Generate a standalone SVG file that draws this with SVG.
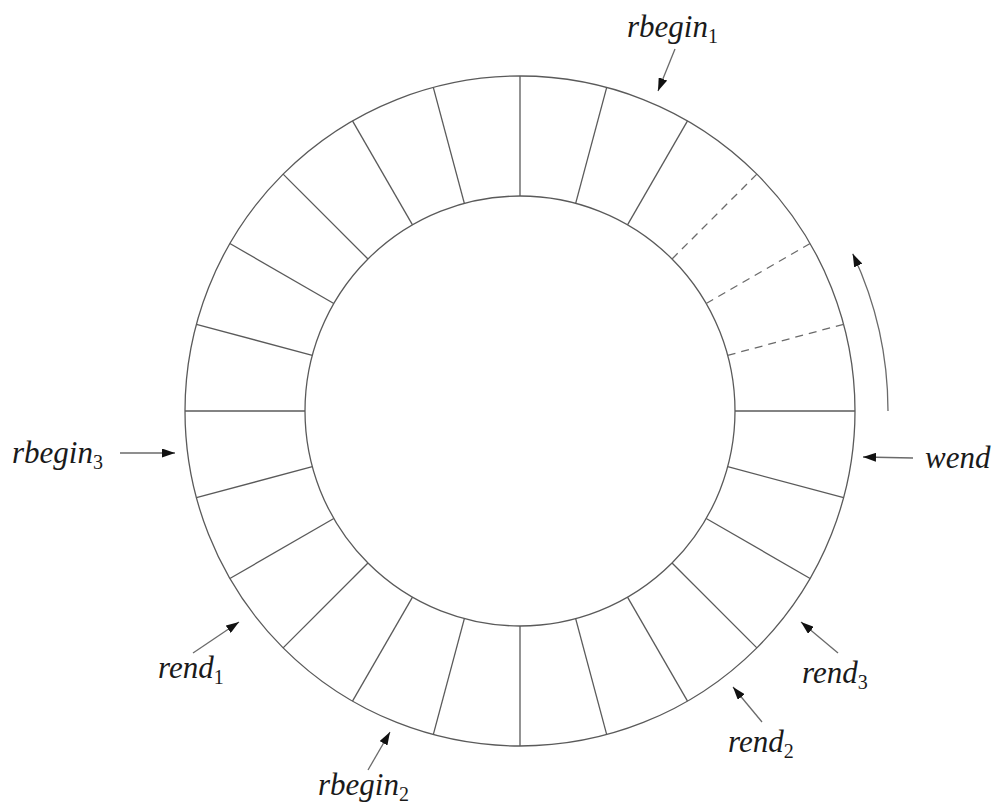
<svg xmlns="http://www.w3.org/2000/svg" width="997" height="807" viewBox="0 0 997 807">
<style>
.ring{fill:none;stroke:#5a5a5a;stroke-width:1.3}
.sp{stroke:#5a5a5a;stroke-width:1.3}
.dash{stroke:#6a6a6a;stroke-width:1.3;stroke-dasharray:8 6}
.arr{fill:none;stroke:#6a6a6a;stroke-width:1.3;marker-end:url(#ah)}
.lbl{font-family:"Liberation Serif","Times New Roman",serif;font-style:italic;font-size:31px;fill:#1a1a1a}
.sub{font-style:normal;font-size:20px}
</style>
<defs>
<marker id="ah" viewBox="0 0 13 9" refX="13" refY="4.5" markerWidth="13" markerHeight="9" markerUnits="userSpaceOnUse" orient="auto">
<path d="M0,0 L13,4.5 L0,9 z" fill="#111"/>
</marker>
</defs>
<rect width="997" height="807" fill="#fff"/>
<g id="ring">
<circle class="ring" cx="520" cy="411" r="335"/>
<circle class="ring" cx="520" cy="411" r="215"/>
<line class="sp" x1="735" y1="411" x2="855" y2="411"/>
<line class="dash" x1="727.67" y1="355.36" x2="843.58" y2="324.30"/>
<line class="dash" x1="706.20" y1="303.5" x2="810.12" y2="243.5"/>
<line class="dash" x1="672.03" y1="258.97" x2="756.88" y2="174.12"/>
<line class="sp" x1="627.5" y1="224.81" x2="687.5" y2="120.88"/>
<line class="sp" x1="575.65" y1="203.33" x2="606.71" y2="87.42"/>
<line class="sp" x1="520" y1="196" x2="520" y2="76"/>
<line class="sp" x1="464.35" y1="203.33" x2="433.29" y2="87.42"/>
<line class="sp" x1="412.5" y1="224.81" x2="352.5" y2="120.88"/>
<line class="sp" x1="367.97" y1="258.97" x2="283.12" y2="174.12"/>
<line class="sp" x1="333.80" y1="303.5" x2="229.88" y2="243.5"/>
<line class="sp" x1="312.33" y1="355.36" x2="196.42" y2="324.30"/>
<line class="sp" x1="305" y1="411" x2="185" y2="411"/>
<line class="sp" x1="312.33" y1="466.64" x2="196.42" y2="497.70"/>
<line class="sp" x1="333.80" y1="518.5" x2="229.88" y2="578.5"/>
<line class="sp" x1="367.97" y1="563.03" x2="283.12" y2="647.88"/>
<line class="sp" x1="412.5" y1="597.19" x2="352.5" y2="701.12"/>
<line class="sp" x1="464.35" y1="618.67" x2="433.29" y2="734.58"/>
<line class="sp" x1="520" y1="626" x2="520" y2="746"/>
<line class="sp" x1="575.65" y1="618.67" x2="606.71" y2="734.58"/>
<line class="sp" x1="627.5" y1="597.19" x2="687.5" y2="701.12"/>
<line class="sp" x1="672.03" y1="563.03" x2="756.88" y2="647.88"/>
<line class="sp" x1="706.20" y1="518.5" x2="810.12" y2="578.5"/>
<line class="sp" x1="727.67" y1="466.64" x2="843.58" y2="497.70"/>
</g>
<g id="connectors">
<path class="arr" d="M888,411 A368,368 0 0 0 852.7,253.7"/>
<line class="arr" x1="675" y1="49" x2="658" y2="91"/>
<line class="arr" x1="120" y1="453" x2="175" y2="453"/>
<line class="arr" x1="193" y1="653" x2="239" y2="622"/>
<line class="arr" x1="368" y1="770" x2="390" y2="732"/>
<line class="arr" x1="762" y1="722" x2="733" y2="687"/>
<line class="arr" x1="838" y1="653" x2="801" y2="622"/>
<line class="arr" x1="913" y1="458" x2="863" y2="457"/>
</g>
<g id="rbegin1"><text class="lbl" x="627" y="37">rbegin<tspan class="sub" dy="6">1</tspan></text></g>
<g id="rbegin3"><text class="lbl" x="12" y="463">rbegin<tspan class="sub" dy="6">3</tspan></text></g>
<g id="rend1"><text class="lbl" x="158" y="678">rend<tspan class="sub" dy="6">1</tspan></text></g>
<g id="rbegin2"><text class="lbl" x="318" y="795">rbegin<tspan class="sub" dy="6">2</tspan></text></g>
<g id="rend2"><text class="lbl" x="728" y="752">rend<tspan class="sub" dy="6">2</tspan></text></g>
<g id="rend3"><text class="lbl" x="802" y="683">rend<tspan class="sub" dy="6">3</tspan></text></g>
<g id="wend"><text class="lbl" x="925" y="468">wend</text></g>
</svg>
